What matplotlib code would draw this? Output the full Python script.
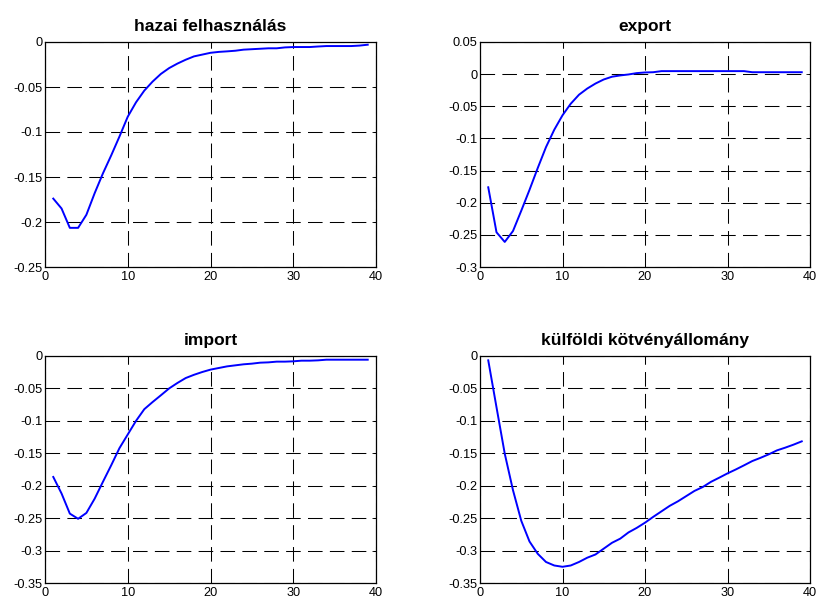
import numpy as np
import matplotlib
matplotlib.use('Agg')
import matplotlib.pyplot as plt

plt.rcParams['font.family'] = ['Liberation Sans', 'DejaVu Sans']

x = np.arange(1, 40)

hazai = [-0.174, -0.185, -0.2065, -0.2065, -0.192, -0.168, -0.146, -0.126, -0.105, -0.083,
         -0.067, -0.054, -0.044, -0.0355, -0.029, -0.024, -0.0197, -0.016, -0.014, -0.012,
         -0.011, -0.0104, -0.0097, -0.0085, -0.008, -0.0075, -0.007, -0.007, -0.006, -0.0056,
         -0.0056, -0.0056, -0.005, -0.0045, -0.0045, -0.0045, -0.0045, -0.004, -0.003]

export = [-0.176, -0.246, -0.261, -0.244, -0.2125, -0.180, -0.146, -0.1135, -0.0865, -0.064,
          -0.046, -0.032, -0.0224, -0.0146, -0.0083, -0.004, -0.002, -0.0005, 0.0016, 0.0026,
          0.003, 0.0047, 0.0047, 0.0047, 0.0047, 0.0047, 0.0047, 0.0047, 0.0047, 0.0047,
          0.0047, 0.0047, 0.003, 0.003, 0.003, 0.003, 0.003, 0.003, 0.003]

imp = [-0.1865, -0.212, -0.243, -0.251, -0.242, -0.220, -0.194, -0.1685, -0.142, -0.121,
       -0.100, -0.082, -0.071, -0.0606, -0.050, -0.0416, -0.034, -0.029, -0.0247, -0.021,
       -0.0185, -0.016, -0.0144, -0.0128, -0.0118, -0.0103, -0.0098, -0.0087, -0.0087, -0.0082,
       -0.0072, -0.0072, -0.0067, -0.0057, -0.0057, -0.0057, -0.0057, -0.0057, -0.0057]

kulfoldi = [-0.0067, -0.079, -0.1506, -0.207, -0.254, -0.286, -0.305, -0.3176, -0.323, -0.325,
            -0.323, -0.3176, -0.311, -0.306, -0.297, -0.288, -0.2816, -0.272, -0.265, -0.257,
            -0.248, -0.2395, -0.231, -0.224, -0.216, -0.208, -0.202, -0.194, -0.1876, -0.181,
            -0.175, -0.1686, -0.162, -0.157, -0.1516, -0.1455, -0.1413, -0.1367, -0.1316]

titles = ['hazai felhasználás', 'export', 'import', 'külföldi kötvényállomány']
series = [hazai, export, imp, kulfoldi]
ylims = [(-0.25, 0), (-0.3, 0.05), (-0.35, 0), (-0.35, 0)]
yticks = [[-0.25, -0.2, -0.15, -0.1, -0.05, 0],
          [-0.3, -0.25, -0.2, -0.15, -0.1, -0.05, 0, 0.05],
          [-0.35, -0.3, -0.25, -0.2, -0.15, -0.1, -0.05, 0],
          [-0.35, -0.3, -0.25, -0.2, -0.15, -0.1, -0.05, 0]]
yticklabels = [['-0.25', '-0.2', '-0.15', '-0.1', '-0.05', '0'],
               ['-0.3', '-0.25', '-0.2', '-0.15', '-0.1', '-0.05', '0', '0.05'],
               ['-0.35', '-0.3', '-0.25', '-0.2', '-0.15', '-0.1', '-0.05', '0'],
               ['-0.35', '-0.3', '-0.25', '-0.2', '-0.15', '-0.1', '-0.05', '0']]

W, H = 819, 597
# axes boxes in pixels: left, top, right, bottom
boxes = [(45, 42, 376, 267), (480, 42, 810, 267),
         (45, 356, 376, 583), (480, 356, 810, 583)]

fig = plt.figure(figsize=(W / 100, H / 100), dpi=100)

for i in range(4):
    l, t, r, b = boxes[i]
    ax = fig.add_axes([l / W, 1 - b / H, (r - l) / W, (b - t) / H])
    ax.plot(x, series[i], color='#0000ff', lw=1.4, zorder=3)
    ax.set_xlim(0, 40)
    ax.set_ylim(*ylims[i])
    ax.set_xticks([0, 10, 20, 30, 40])
    ax.set_yticks(yticks[i])
    ax.set_yticklabels(yticklabels[i])
    ax.grid(True, color='black', linestyle=(0, (14, 7)), lw=0.75)
    ax.tick_params(direction='in', length=3, width=0.6, labelsize=9.2,
                   top=True, right=True, pad=2)
    ax.tick_params(axis='x', pad=3)
    for s in ax.spines.values():
        s.set_linewidth(0.9)
    ax.set_title(titles[i], fontsize=12.5, fontweight='bold', pad=8)

fig.savefig('out.png', dpi=100)
